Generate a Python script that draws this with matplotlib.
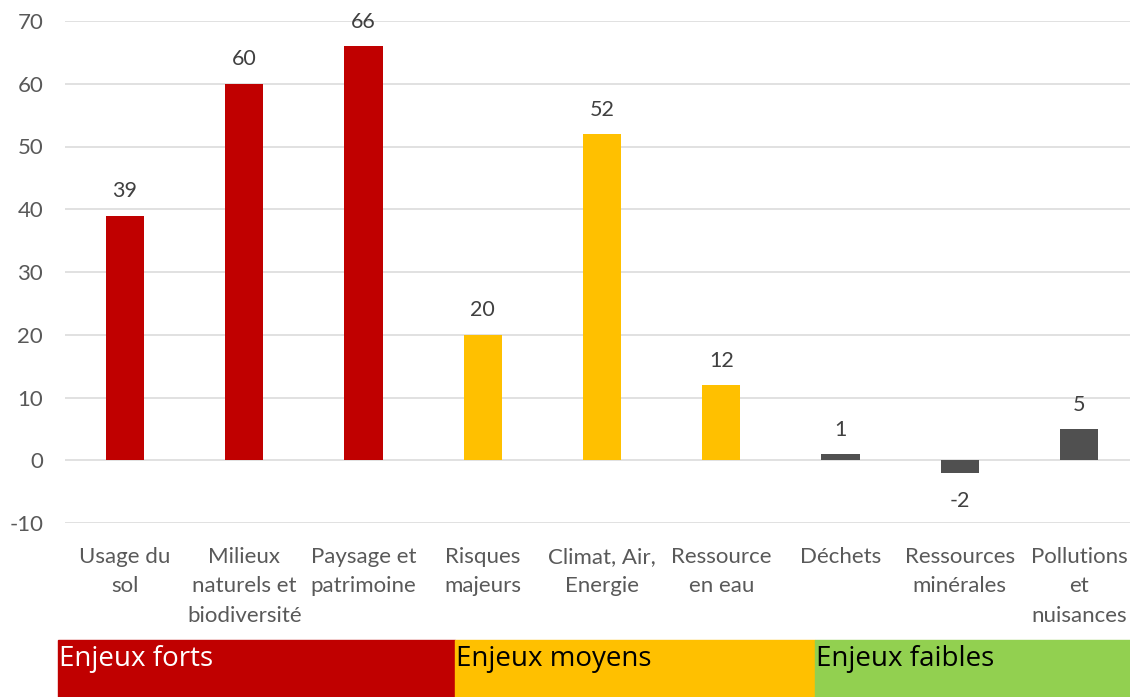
import matplotlib.pyplot as plt
from matplotlib.patches import Rectangle

plt.rcParams['axes.unicode_minus'] = False

categories = ["Usage du\nsol", "Milieux\nnaturels et\nbiodiversité", "Paysage et\npatrimoine",
              "Risques\nmajeurs", "Climat, Air,\nEnergie", "Ressource\nen eau",
              "Déchets", "Ressources\nminérales", "Pollutions\net\nnuisances"]
values = [39, 60, 66, 20, 52, 12, 1, -2, 5]
levels = ["fort", "fort", "fort", "moyen", "moyen", "moyen", "faible", "faible", "faible"]
yticks = [-10, 0, 10, 20, 30, 40, 50, 60, 70]

bar_colors = {"fort": "#C00000", "moyen": "#FFC000", "faible": "#505050"}

# bandeau du bas : (texte, couleur fond, couleur texte, x0, x1 en pixels)
bands = [("Enjeux forts", "#C00000", "white", 58, 455),
         ("Enjeux moyens", "#FFC000", "black", 455, 815),
         ("Enjeux faibles", "#92D050", "black", 815, 1130)]

W, H = 1130, 697
fig = plt.figure(figsize=(W / 100, H / 100), dpi=100)
ax = fig.add_axes([65.4 / W, 1 - 523 / H, 1073.2 / W, 502 / H])

x = list(range(len(values)))
ax.bar(x, values, width=0.32, color=[bar_colors[l] for l in levels], zorder=3)

for yt in yticks:
    ax.axhline(yt, color="#d9d9d9", lw=1.1, zorder=1)

for xi, v in zip(x, values):
    off = 17.5 if v >= 0 else -20
    ax.annotate(str(v), (xi, v), xytext=(0, off), textcoords="offset points",
                ha="center", va="center", fontsize=15.5, color="#404040", family="Lato")

ax.set_xlim(-0.5, len(values) - 0.5)
ax.set_ylim(-10, 70)
ax.set_yticks(yticks)
ax.set_xticks(x)
ax.set_xticklabels(categories, fontsize=16, color="#595959", family="Lato", linespacing=1.6)
ax.tick_params(axis="y", length=0, pad=16, labelsize=16, labelcolor="#595959")
ax.tick_params(axis="x", length=0, pad=17)
for lab in ax.get_yticklabels():
    lab.set_family("Lato")
for s in ax.spines.values():
    s.set_visible(False)

for txt, bg, fg, x0, x1 in bands:
    fig.patches.append(Rectangle((x0 / W, 0), (x1 - x0) / W, 57 / H,
                                 transform=fig.transFigure, color=bg, zorder=0))
    fig.text((x0 + 1) / W, 1 - 645 / H, txt, ha="left", va="top", fontsize=20,
             color=fg, family="Open Sans")

fig.savefig("out.png", dpi=100)
